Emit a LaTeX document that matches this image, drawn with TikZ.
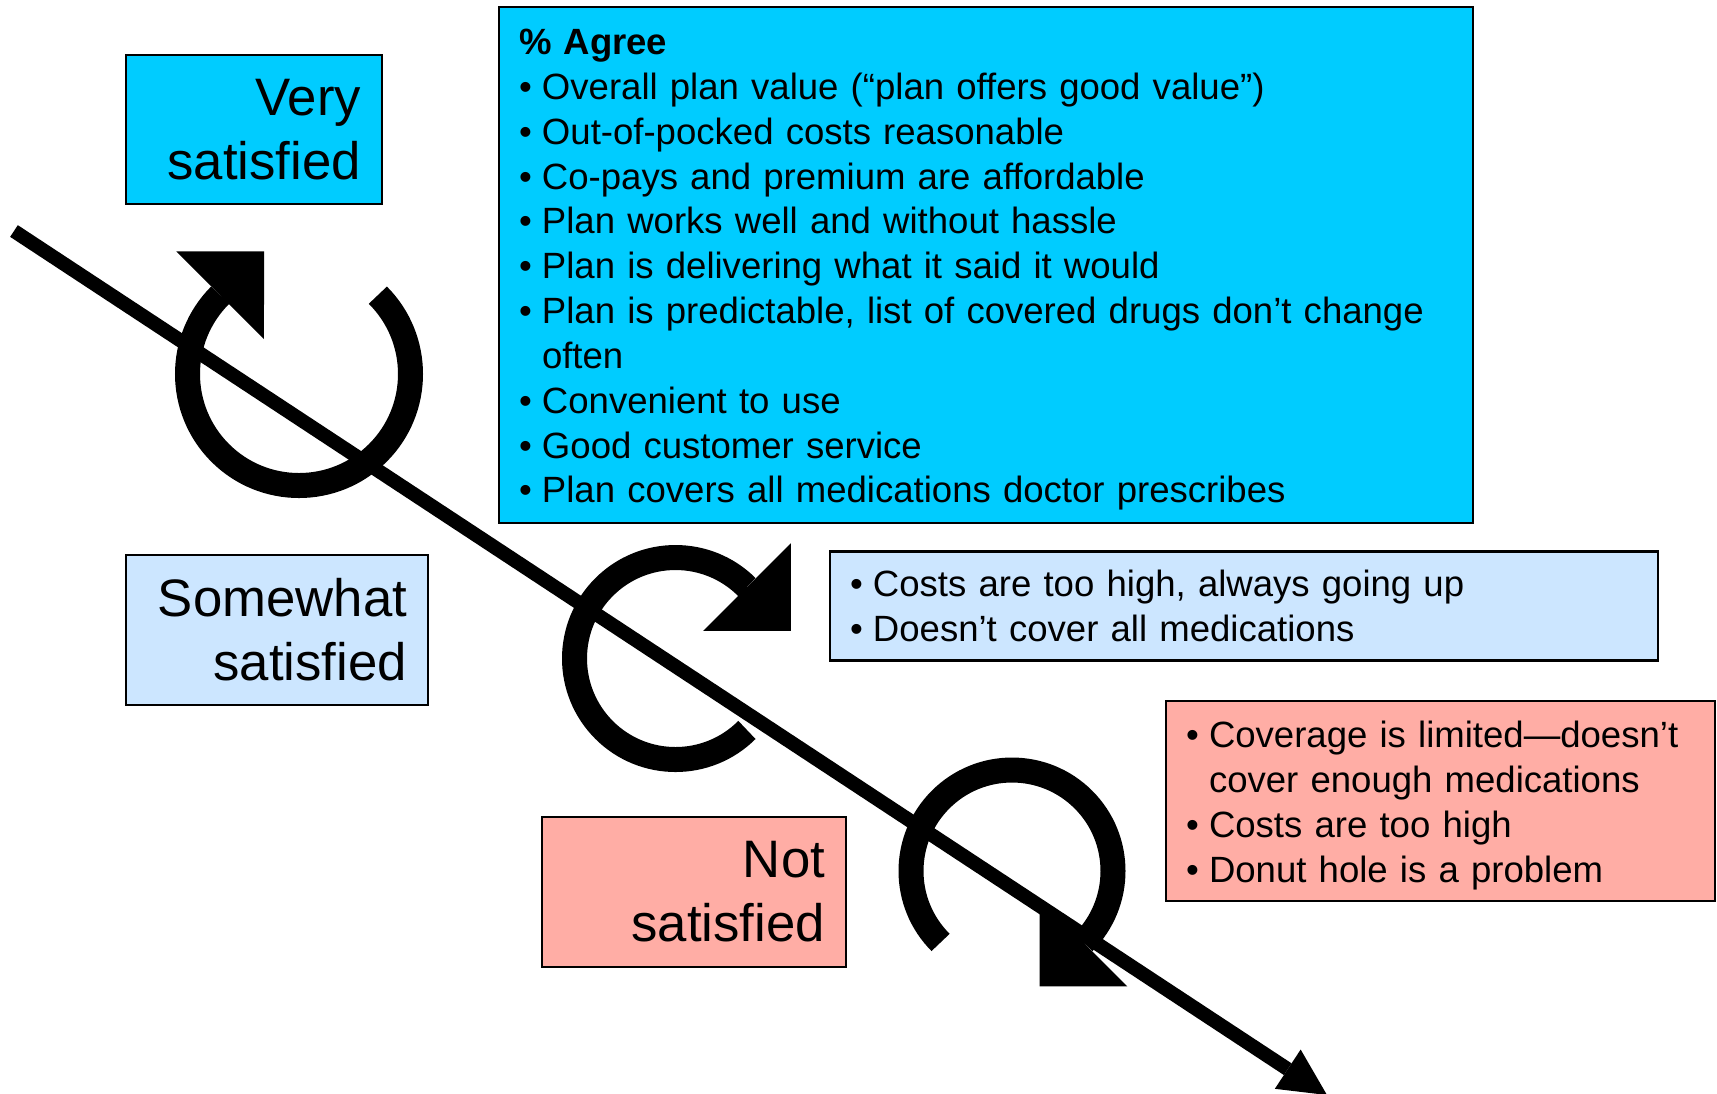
\documentclass[tikz,border=0pt]{standalone}
\usepackage{fontspec}
\setmainfont{Liberation Sans}
\usetikzlibrary{arrows.meta}

\definecolor{vivid}{HTML}{00CCFF}
\definecolor{pale}{HTML}{CCE6FF}
\definecolor{salmon}{HTML}{FFADA5}

\newcommand{\bul}{\makebox[0.23cm][l]{\textbullet}}

\begin{document}
\begin{tikzpicture}[
  levelbox/.style={draw, line width=0.6pt, inner xsep=0.21cm, minimum height=1.5cm, align=right, font=\fontsize{15pt}{18.2pt}\selectfont},
  listbox/.style={draw, line width=0.6pt, inner xsep=0.2cm, align=left, font=\fontsize{10.4pt}{12.75pt}\selectfont},
  swirl/.style={line width=0.25cm, -{Triangle[length=0.62cm,width=1.24cm,line width=0pt]}},
  trend/.style={line width=0.14cm, -{Triangle[length=0.47cm,width=0.47cm,line width=0pt]}}
]

\useasboundingbox (0,0) rectangle (17.17,-10.93);

\node [levelbox, fill=vivid, text width=2.14cm, minimum height=1.49cm] (very) at (2.54,-1.295) {Very\\satisfied};
\node [levelbox, fill=pale, text width=2.60cm] (somewhat) at (2.77,-6.30) {Somewhat\\satisfied};
\node [levelbox, fill=salmon, text width=2.62cm] (notsat) at (6.94,-8.92) {Not\\satisfied};

\node [listbox, fill=vivid, text width=9.34cm, minimum height=5.16cm, text height=10pt] (agree) at (9.86,-2.65) {\textbf{\% Agree}\\
  \bul Overall plan value (“plan offers good value”)\\
  \bul Out-of-pocked costs reasonable\\
  \bul Co-pays and premium are affordable\\
  \bul Plan works well and without hassle\\
  \bul Plan is delivering what it said it would\\
  \bul Plan is predictable, list of covered drugs don’t change\\
  \hspace*{0.23cm}often\\
  \bul Convenient to use\\
  \bul Good customer service\\
  \bul Plan covers all medications doctor prescribes};
\node [listbox, fill=pale, text width=7.88cm, minimum height=1.09cm] (mixed) at (12.44,-6.06) {\bul Costs are too high, always going up\\
  \bul Doesn’t cover all medications};
\node [listbox, fill=salmon, text width=5.09cm, minimum height=2.0cm, text height=10pt] (complaints) at (14.405,-8.01) {\bul Coverage is limited—doesn’t\\
  \hspace*{0.23cm}cover enough medications\\
  \bul Costs are too high\\
  \bul Donut hole is a problem};

\coordinate (c1) at (2.99,-3.74);
\coordinate (c2) at (6.755,-6.585);
\coordinate (c3) at (10.12,-8.71);
\coordinate (start) at (0.14,-2.31);
\coordinate (finish) at (13.27,-10.95);

\draw [swirl] (c1) ++(45:1.115) arc [start angle=45, end angle=-225, radius=1.115] -- ++(45:0.62);
\draw [swirl] (c2) ++(-45:1.01) arc [start angle=-45, end angle=-315, radius=1.01] -- ++(-45:0.62);
\draw [swirl] (c3) ++(-135:1.01) arc [start angle=-135, end angle=-405, radius=1.01] -- ++(-135:0.62);

\draw [trend] (start) -- (finish);

\end{tikzpicture}
\end{document}
